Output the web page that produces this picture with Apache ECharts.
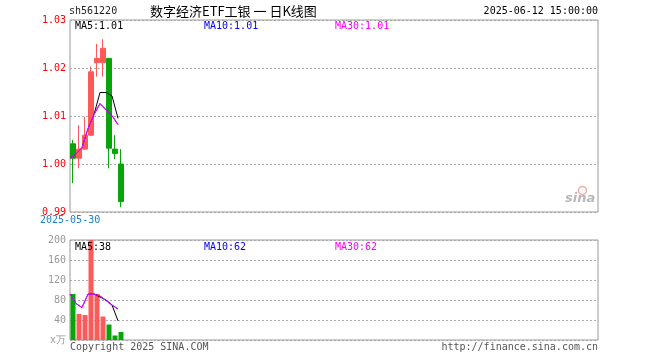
<!DOCTYPE html>
<html><head><meta charset="utf-8">
<script src="https://cdn.jsdelivr.net/npm/echarts@6/dist/echarts.min.js"></script>
<style>html,body{margin:0;padding:0;background:#fff}#c{width:660px;height:360px}</style>
</head><body><div id="c"></div>
<script>
// ---- data ----
var dates = ['2025-05-30','2025-06-03','2025-06-04','2025-06-05','2025-06-06','2025-06-09','2025-06-10','2025-06-11','2025-06-12'];
var opens  = [1.0042, 1.0012, 1.0031, 1.0060, 1.0211, 1.0211, 1.0220, 1.0031, 1.0000];
var closes = [1.0012, 1.0031, 1.0060, 1.0192, 1.0220, 1.0241, 1.0033, 1.0022, 0.9922];
var lows   = [0.9960, 0.9991, 1.0030, 1.0058, 1.0182, 1.0182, 0.9991, 1.0010, 0.9910];
var highs  = [1.0050, 1.0081, 1.0098, 1.0203, 1.0250, 1.0260, 1.0221, 1.0060, 1.0031];
var priceMA5  = [null, null, null, null, 1.0103, 1.0149, 1.0149, 1.0142, 1.0095];
var priceMA10 = [1.0012, 1.0021, 1.0034, 1.0074, 1.0103, 1.0126, 1.0113, 1.0101, 1.0082];
var priceMA30 = [1.0012, 1.0021, 1.0034, 1.0074, 1.0103, 1.0126, 1.0113, 1.0101, 1.0082];
var volumes = [92, 52, 50, 218, 92, 47, 31, 9, 16];
var volMA5  = [null, null, null, null, 92, 86, 80, 70, 38.4];
var volMA10 = [92, 73, 65, 92, 92, 88, 79, 70, 62];
var volMA30 = [92, 73, 65, 92, 92, 88, 79, 70, 62];
var priceTicks = [0.99, 1.00, 1.01, 1.02, 1.03];
var volTicks = [0, 40, 80, 120, 160, 200];
var volUnit = 'x万';
var code = 'sh561220';
var title = '数字经济ETF工银 一 日K线图';
var stamp = '2025-06-12 15:00:00';

// ---- build ----
var SLOTS = 88;
var cats = dates.slice();
while (cats.length < SLOTS) cats.push('');
var UP = '#ff5a5a', DOWN = '#08a508';
var MONO = 'DejaVu Sans Mono';
var kData = dates.map(function(d, i){ return [opens[i], closes[i], lows[i], highs[i]]; });
function pairs(arr){ var out=[]; arr.forEach(function(v,i){ if(v!=null) out.push([i, v]); }); return out; }
function last(arr){ return arr[arr.length-1]; }
var volData = volumes.map(function(v,i){ return {value:v, itemStyle:{color: closes[i] >= opens[i] ? UP : DOWN}}; });

var chart = echarts.init(document.getElementById('c'), null, {renderer:'canvas'});
var txt = function(x, y, s, color, opt){
  opt = opt || {};
  return {type:'text', left: opt.right==null ? x : undefined, right: opt.right, top: y, z: 100,
    style:{text:s, fill:color, font: (opt.font || ('10px "' + MONO + '"')), textAlign: opt.align || 'left'}};
};
chart.setOption({
  animation:false,
  backgroundColor:'#fff',
  grid:[
    {left:70, top:20, width:528, height:192, show:true, borderColor:'#999', borderWidth:1, backgroundColor:'transparent'},
    {left:70, top:240, width:528, height:100, show:true, borderColor:'#999', borderWidth:1, backgroundColor:'transparent'}
  ],
  xAxis:[
    {type:'category', gridIndex:0, data:cats, boundaryGap:true, axisLine:{show:false}, axisTick:{show:false}, axisLabel:{show:false}, splitLine:{show:false}},
    {type:'category', gridIndex:1, data:cats, boundaryGap:true, axisLine:{show:false}, axisTick:{show:false}, axisLabel:{show:false}, splitLine:{show:false}},
    {type:'value', gridIndex:0, min:0, max:SLOTS, show:false},
    {type:'value', gridIndex:1, min:0, max:SLOTS, show:false}
  ],
  yAxis:[
    {type:'value', gridIndex:0, min:priceTicks[0], max:last(priceTicks), interval:0.01,
      axisLine:{show:false}, axisTick:{show:false},
      axisLabel:{color:'#f00', fontFamily:MONO, fontSize:10, margin:4, formatter:function(v){return v.toFixed(2);}},
      splitLine:{show:true, lineStyle:{color:'#aaa', type:[2,2], width:1}}},
    {type:'value', gridIndex:1, min:volTicks[0], max:last(volTicks), interval:40,
      axisLine:{show:false}, axisTick:{show:false},
      axisLabel:{color:'#999', fontFamily:MONO, fontSize:10, margin:4, formatter:function(v){return v===0 ? volUnit : String(v);},
        rich:{}},
      splitLine:{show:true, lineStyle:{color:'#aaa', type:[2,2], width:1}}}
  ],
  series:[
    {type:'candlestick', xAxisIndex:0, yAxisIndex:0, data:kData, barWidth:5,
      itemStyle:{color:UP, color0:DOWN, borderColor:UP, borderColor0:DOWN, borderWidth:1}},
    {type:'line', xAxisIndex:2, yAxisIndex:0, data:pairs(priceMA5), symbol:'none', lineStyle:{color:'#000', width:1}, z:5},
    {type:'line', xAxisIndex:2, yAxisIndex:0, data:pairs(priceMA10), symbol:'none', lineStyle:{color:'#00f', width:1}, z:5},
    {type:'line', xAxisIndex:2, yAxisIndex:0, data:pairs(priceMA30), symbol:'none', lineStyle:{color:'#f0f', width:1}, z:6},
    {type:'bar', xAxisIndex:1, yAxisIndex:1, data:volData, barWidth:5},
    {type:'line', xAxisIndex:3, yAxisIndex:1, data:pairs(volMA5), symbol:'none', lineStyle:{color:'#000', width:1}, z:5},
    {type:'line', xAxisIndex:3, yAxisIndex:1, data:pairs(volMA10), symbol:'none', lineStyle:{color:'#00f', width:1}, z:5},
    {type:'line', xAxisIndex:3, yAxisIndex:1, data:pairs(volMA30), symbol:'none', lineStyle:{color:'#f0f', width:1}, z:6}
  ],
  graphic:[
    txt(69, 6, code, '#222'),
    txt(150, 5, title, '#000', {font:'13px "Noto Sans CJK SC"'}),
    txt(0, 6, stamp, '#000', {right:62}),
    txt(75, 21, 'MA5:' + last(priceMA5).toFixed(2), '#000'),
    txt(204, 21, 'MA10:' + last(priceMA10).toFixed(2), '#00f'),
    txt(335, 21, 'MA30:' + last(priceMA30).toFixed(2), '#f0f'),
    txt(40, 215, dates[0], '#1a7fd0'),
    txt(75, 242, 'MA5:' + Math.round(last(volMA5)), '#000'),
    txt(204, 242, 'MA10:' + Math.round(last(volMA10)), '#00f'),
    txt(335, 242, 'MA30:' + Math.round(last(volMA30)), '#f0f'),
    txt(70, 342, 'Copyright 2025 SINA.COM', '#555'),
    txt(0, 342, 'http://finance.sina.com.cn', '#555', {right:62}),
    {type:'text', left:565, top:192, z:50, style:{text:'sina', fill:'#b8b8b8', font:'italic bold 13px "DejaVu Sans"'}},
    {type:'circle', left:576, top:184, z:49, shape:{r:4}, style:{fill:'none', stroke:'#f4a8a8', lineWidth:1.5}}
  ]
});
</script></body></html>
